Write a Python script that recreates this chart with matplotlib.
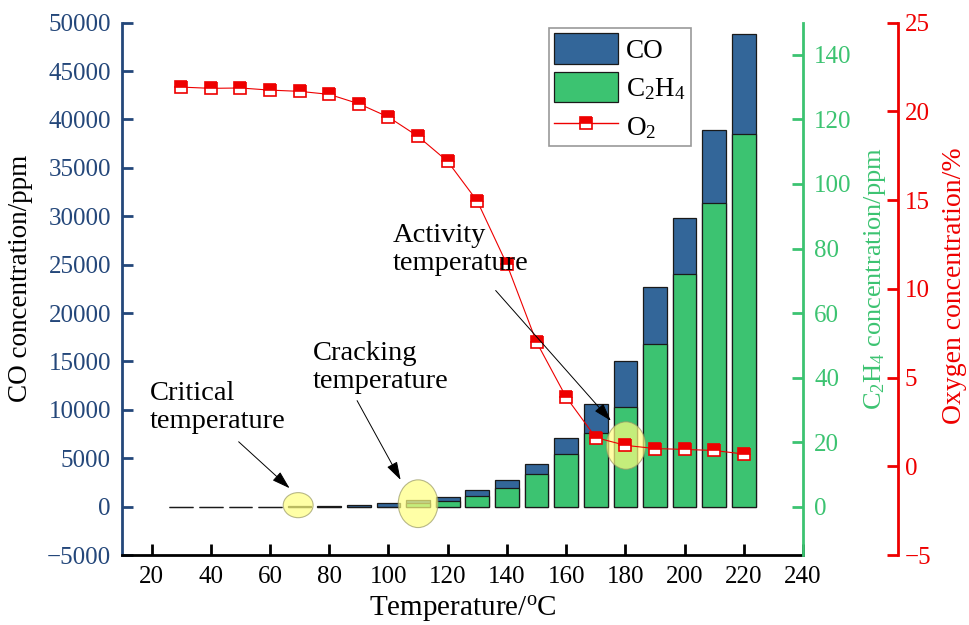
import numpy as np
import matplotlib.pyplot as plt
from matplotlib.patches import Ellipse
from matplotlib.patches import Patch
from matplotlib.lines import Line2D

plt.rcParams['font.family'] = 'Liberation Serif'
plt.rcParams['mathtext.fontset'] = 'custom'
plt.rcParams['mathtext.rm'] = 'Liberation Serif'
plt.rcParams['mathtext.it'] = 'Liberation Serif:italic'

temperature = [30, 40, 50, 60, 70, 80, 90, 100, 110, 120,
               130, 140, 150, 160, 170, 180, 190, 200, 210, 220]
co = [0, 0, 0, 0, 30, 70, 175, 380, 660, 1000,
      1700, 2700, 4390, 7040, 10600, 15000, 22670, 29800, 38880, 48820]
c2h4 = [0, 0, 0, 0, 0, 0, 0, 0, 1.0, 1.7,
        3.2, 5.8, 10.0, 16.2, 22.8, 30.8, 50.4, 72.1, 94.0, 115.6]
o2 = [21.37, 21.3, 21.32, 21.2, 21.13, 20.96, 20.43, 19.68, 18.59, 17.18,
      14.94, 11.38, 7.0, 3.9, 1.62, 1.18, 1.0, 0.95, 0.89, 0.69]

blue = '#336699'
dblue = '#24477a'
green = '#3cc371'
red = '#ee0000'

fig = plt.figure(figsize=(9.69, 6.25), dpi=100)
ax = fig.add_axes([0.1259, 0.112, 0.7028, 0.8517])
ax2 = ax.twinx()
ax3 = ax.twinx()

ax.bar(temperature, co, width=8, color=blue, edgecolor='#1a1a1a', linewidth=0.9)
ax2.bar(temperature, c2h4, width=8, color=green, edgecolor='#1a1a1a', linewidth=0.9)
ax3.plot(temperature, o2, '-', color=red, lw=0.8, marker='s', markersize=8.5,
         fillstyle='top', markerfacecolor=red, markerfacecoloralt='white',
         markeredgecolor=red, markeredgewidth=1.2)

ax.set_xlim(10, 240)
ax.set_ylim(-5000, 50000)
ax2.set_ylim(-15, 150)
ax3.set_ylim(-5, 25)

ax.set_xticks(range(20, 241, 20))
ax.set_yticks(range(-5000, 50001, 5000))
ax2.set_yticks(range(0, 141, 20))
ax3.set_yticks(range(-5, 26, 5))

# spines
for a in [ax, ax2, ax3]:
    a.spines['top'].set_visible(False)
ax.spines['right'].set_visible(False)
ax.spines['left'].set_color(dblue)
ax.spines['left'].set_linewidth(2)
ax.spines['bottom'].set_linewidth(2)
ax2.spines['left'].set_visible(False)
ax2.spines['bottom'].set_visible(False)
ax2.spines['right'].set_color(green)
ax2.spines['right'].set_linewidth(2)
ax3.spines['left'].set_visible(False)
ax3.spines['bottom'].set_visible(False)
ax3.spines['right'].set_position(('axes', 1.1395))
ax3.spines['right'].set_color(red)
ax3.spines['right'].set_linewidth(2)

ax.tick_params(axis='x', direction='in', length=8, width=2, labelsize=18, pad=8)
ax.tick_params(axis='y', direction='in', length=8, width=2, labelsize=18,
               color=dblue, labelcolor=dblue, pad=8)
ax2.tick_params(axis='y', direction='in', length=8, width=2, labelsize=18,
                color=green, labelcolor=green, pad=8)
ax3.tick_params(axis='y', direction='in', length=8, width=2, labelsize=18,
                color=red, labelcolor=red, pad=5)

ax.set_xlabel('Temperature/$^{\\rm o}$C', fontsize=21, labelpad=4)
ax.set_ylabel('CO concentration/ppm', fontsize=19.5)
ax.yaxis.set_label_coords(-0.130, 0.519)
ax2.set_ylabel('C$_2$H$_4$ concentration/ppm', fontsize=19, color=green)
ax2.yaxis.set_label_coords(1.0862, 0.52)
ax3.set_ylabel('Oxygen concentration/%', fontsize=20, color=red)
ax3.yaxis.set_label_coords(1.2045, 0.505)

# highlighted regions
for cx, cy, w, h in [(69.5, 150, 10.1, 2590), (110, 300, 13.4, 4930), (180.2, 6310, 13.2, 4900)]:
    ax3.add_patch(Ellipse((cx, cy), w, h, transform=ax.transData,
                          facecolor='#ffff80', edgecolor='#999966', lw=0.8, alpha=0.7))

arrow = dict(arrowstyle='-|>,head_length=0.8,head_width=0.25', color='black',
             lw=0.7, mutation_scale=14, shrinkA=0, shrinkB=0)
ax3.annotate('', xy=(66.6, 1900), xytext=(49.4, 6700),
             xycoords=ax.transData, textcoords=ax.transData, arrowprops=arrow)
ax3.annotate('', xy=(104.1, 2760), xytext=(89.4, 10950),
             xycoords=ax.transData, textcoords=ax.transData, arrowprops=arrow)
ax3.annotate('', xy=(175.1, 8870), xytext=(136.2, 22330),
             xycoords=ax.transData, textcoords=ax.transData, arrowprops=arrow)
ax3.text(19.3, 10200, 'Critical\ntemperature', transform=ax.transData,
         fontsize=20.5, ha='left', va='center', linespacing=1.15)
ax3.text(74.4, 14400, 'Cracking\ntemperature', transform=ax.transData,
         fontsize=20.5, ha='left', va='center', linespacing=1.15)
ax3.text(101.4, 26600, 'Activity\ntemperature', transform=ax.transData,
         fontsize=20.5, ha='left', va='center', linespacing=1.15)

handles = [Patch(facecolor=blue, edgecolor='#1a1a1a', lw=0.9),
           Patch(facecolor=green, edgecolor='#1a1a1a', lw=0.9),
           Line2D([], [], color=red, lw=1, marker='s', markersize=8.5, fillstyle='top',
                  markerfacecolor=red, markerfacecoloralt='white',
                  markeredgecolor=red, markeredgewidth=1.2)]
leg = fig.legend(handles, ['CO', 'C$_2$H$_4$', 'O$_2$'], loc='upper left',
                 bbox_to_anchor=(0.5666, 0.9552), bbox_transform=fig.transFigure,
                 fontsize=19.5, handlelength=2.35, handleheight=1.35, fancybox=False,
                 edgecolor='#999999', framealpha=1, borderaxespad=0,
                 labelspacing=0.3, handletextpad=0.3, borderpad=0.2)
leg.get_frame().set_linewidth(1.2)

fig.savefig('out.png', dpi=100)
